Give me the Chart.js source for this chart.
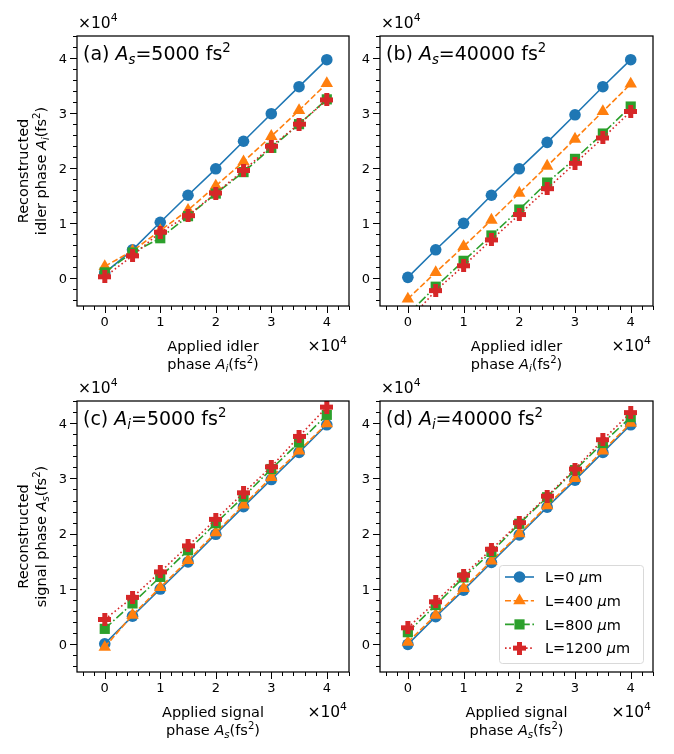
<!DOCTYPE html>
<html>
<head>
<meta charset="utf-8">
<script src="https://cdn.jsdelivr.net/npm/chart.js@4.4.1/dist/chart.umd.min.js"></script>
<style>
  body { margin: 0; background: #fff; }
  #fig { position: relative; width: 674px; height: 754px; }
  #fig canvas { position: absolute; left: 0; top: 0; }
</style>
</head>
<body>
<div id="fig">
  <canvas id="panelA" width="674" height="754"></canvas>
  <canvas id="panelB" width="674" height="754"></canvas>
  <canvas id="panelC" width="674" height="754"></canvas>
  <canvas id="panelD" width="674" height="754"></canvas>
</div>
<script>
// applied phase (x axis), in units of 1e4 fs^2
const appliedPhase = [0, 0.5, 1, 1.5, 2, 2.5, 3, 3.5, 4];
const crystalLengths = ['0', '400', '800', '1200']; // µm
const majorTicks = [0, 1, 2, 3, 4];

// (a) reconstructed idler phase, A_s = 5000 fs^2
const idlerAs5000_L0    = [0.10, 0.52, 1.02, 1.51, 1.99, 2.49, 2.99, 3.48, 3.97];
const idlerAs5000_L400  = [0.22, 0.50, 0.87, 1.24, 1.68, 2.12, 2.58, 3.05, 3.54];
const idlerAs5000_L800  = [0.11, 0.47, 0.73, 1.13, 1.54, 1.93, 2.37, 2.80, 3.25];
const idlerAs5000_L1200 = [0.03, 0.41, 0.84, 1.14, 1.55, 1.96, 2.40, 2.80, 3.24];

// (b) reconstructed idler phase, A_s = 40000 fs^2
const idlerAs40000_L0    = [0.02, 0.52, 1.00, 1.51, 1.99, 2.47, 2.97, 3.48, 3.97];
const idlerAs40000_L400  = [-0.37, 0.11, 0.58, 1.06, 1.55, 2.04, 2.53, 3.03, 3.53];
const idlerAs40000_L800  = [-0.65, -0.15, 0.32, 0.78, 1.25, 1.74, 2.17, 2.63, 3.12];
const idlerAs40000_L1200 = [-0.78, -0.22, 0.23, 0.70, 1.16, 1.63, 2.09, 2.55, 3.03];

// (c) reconstructed signal phase, A_i = 5000 fs^2
const signalAi5000_L0    = [0.01, 0.51, 1.00, 1.49, 1.99, 2.49, 2.98, 3.47, 3.97];
const signalAi5000_L400  = [-0.05, 0.53, 1.03, 1.52, 2.02, 2.52, 3.02, 3.50, 3.99];
const signalAi5000_L800  = [0.28, 0.74, 1.22, 1.70, 2.19, 2.67, 3.17, 3.65, 4.15];
const signalAi5000_L1200 = [0.45, 0.85, 1.31, 1.78, 2.26, 2.74, 3.21, 3.76, 4.29];

// (d) reconstructed signal phase, A_i = 40000 fs^2
const signalAi40000_L0    = [0.00, 0.50, 0.98, 1.48, 1.98, 2.48, 2.97, 3.47, 3.97];
const signalAi40000_L400  = [0.04, 0.53, 1.01, 1.51, 2.00, 2.51, 3.00, 3.50, 4.00];
const signalAi40000_L800  = [0.22, 0.71, 1.21, 1.67, 2.18, 2.66, 3.15, 3.64, 4.11];
const signalAi40000_L1200 = [0.30, 0.77, 1.25, 1.72, 2.20, 2.68, 3.17, 3.70, 4.19];

const FONT = '"DejaVu Sans", "Liberation Sans", sans-serif';

// filled "plus" marker like matplotlib 'P'
function makePlus(size, color) {
  const c = document.createElement('canvas');
  c.width = c.height = size;
  const g = c.getContext('2d');
  g.fillStyle = color;
  const t = Math.round(size * 0.38), o = (size - t) / 2;
  g.fillRect(o, 0, t, size);
  g.fillRect(0, o, size, t);
  return c;
}

const styles = [
  { color: '#1f77b4', dash: [],                   marker: 'circle',   r: 5.8 },
  { color: '#ff7f0e', dash: [6, 2.6],             marker: 'triangle', r: 7.2 },
  { color: '#2ca02c', dash: [9, 2.6, 1.6, 2.6],   marker: 'rect',     r: 7.2 },
  { color: '#d62728', dash: [1.6, 2.6],           marker: makePlus(13, '#d62728'), r: 6.5 }
];

// small rich-text helper (italic / sub / sup runs)
const it = t => ({ t, it: true });
const sub = t => ({ t, it: true, sub: true });
const sup = t => ({ t, sup: true });
function fontFor(r, size) {
  const s = (r.sub || r.sup) ? size * 0.7 : size;
  return (r.it ? 'italic ' : '') + s + 'px ' + FONT;
}
function drawRuns(ctx, runs, x, y, size, align) {
  let w = 0;
  runs.forEach(r => { ctx.font = fontFor(r, size); w += ctx.measureText(r.t).width; });
  let cx = align === 'center' ? x - w / 2 : align === 'right' ? x - w : x;
  ctx.textAlign = 'left';
  ctx.textBaseline = 'alphabetic';
  runs.forEach(r => {
    ctx.font = fontFor(r, size);
    const dy = r.sub ? size * 0.22 : r.sup ? -size * 0.42 : 0;
    ctx.fillText(r.t, cx, y + dy);
    cx += ctx.measureText(r.t).width;
  });
}

const decoPlugin = {
  id: 'deco',
  afterDraw(chart) {
    const p = chart.options.plugins.deco;
    const ctx = chart.ctx;
    const a = chart.chartArea;
    const xs = chart.scales.x, ys = chart.scales.y;
    ctx.save();
    ctx.fillStyle = '#000';
    ctx.strokeStyle = '#000';

    // frame
    ctx.lineWidth = 1.25;
    ctx.strokeRect(a.left, a.top, a.right - a.left, a.bottom - a.top);

    // ticks (major + minor every 0.2)
    ctx.lineWidth = 1;
    ctx.beginPath();
    for (let k = -2; k <= 22; k++) {
      const v = k / 5;
      const len = (k % 5 === 0) ? 7 : 4;
      const px = Math.round(xs.getPixelForValue(v)) + 0.5;
      ctx.moveTo(px, a.bottom); ctx.lineTo(px, a.bottom + len);
      const py = Math.round(ys.getPixelForValue(v)) + 0.5;
      ctx.moveTo(a.left, py); ctx.lineTo(a.left - len, py);
    }
    ctx.stroke();

    // tick labels
    ctx.font = '13px ' + FONT;
    ctx.textBaseline = 'alphabetic';
    majorTicks.forEach(v => {
      ctx.textAlign = 'center';
      ctx.fillText(String(v), xs.getPixelForValue(v), a.bottom + 20);
      ctx.textAlign = 'right';
      ctx.fillText(String(v), a.left - 10, ys.getPixelForValue(v) + 4.7);
    });

    // offset texts x10^4
    const offRuns = [{ t: '×10' }, sup('4')];
    drawRuns(ctx, offRuns, a.left + 1, a.top - 8, 15.5, 'left');
    drawRuns(ctx, offRuns, a.right - 2, a.bottom + 45, 15.5, 'right');

    // panel title
    drawRuns(ctx, p.title, a.left + 6, a.top + 24, 19, 'left');

    // x label
    const cx = (a.left + a.right) / 2;
    drawRuns(ctx, p.xlabel[0], cx, a.bottom + 45, 14.5, 'center');
    drawRuns(ctx, p.xlabel[1], cx, a.bottom + 63, 14.5, 'center');

    // y label
    if (p.ylabel) {
      const cy = (a.top + a.bottom) / 2;
      [28, 46].forEach((bx, i) => {
        ctx.save();
        ctx.translate(bx, cy);
        ctx.rotate(-Math.PI / 2);
        drawRuns(ctx, p.ylabel[i], 0, 0, 14.5, 'center');
        ctx.restore();
      });
    }

    // legend
    if (p.legend) {
      const lx = a.right - 154, ly = a.bottom - 107, lw = 144, lh = 98;
      ctx.fillStyle = 'rgba(255,255,255,0.8)';
      ctx.strokeStyle = '#d9d9d9';
      ctx.lineWidth = 1;
      ctx.beginPath();
      ctx.roundRect(lx + 0.5, ly + 0.5, lw, lh, 3);
      ctx.fill();
      ctx.stroke();
      styles.forEach((s, i) => {
        const ry = ly + 12 + i * 23.7;
        ctx.strokeStyle = s.color;
        ctx.lineWidth = 1.6;
        ctx.setLineDash(s.dash);
        ctx.beginPath();
        ctx.moveTo(lx + 6, ry); ctx.lineTo(lx + 35, ry);
        ctx.stroke();
        ctx.setLineDash([]);
        ctx.fillStyle = s.color;
        Chart.helpers.drawPoint(ctx, { pointStyle: s.marker, radius: s.r, rotation: 0, borderWidth: 0 }, lx + 20.5, ry);
        ctx.fillStyle = '#000';
        drawRuns(ctx, [{ t: 'L=' + crystalLengths[i] + ' ' }, it('μ'), { t: 'm' }], lx + 46, ry + 5.2, 14.5, 'left');
      });
    }
    ctx.restore();
  }
};

function makeDatasets(series) {
  return series.map((vals, i) => {
    const s = styles[i];
    return {
      label: 'L=' + crystalLengths[i] + ' μm',
      data: appliedPhase.map((x, k) => ({ x: x, y: vals[k] })),
      borderColor: s.color,
      backgroundColor: s.color,
      borderWidth: 1.6,
      borderDash: s.dash,
      pointStyle: s.marker,
      pointRadius: s.r,
      pointHoverRadius: s.r,
      pointBorderWidth: 0,
      tension: 0,
      order: 4 - i
    };
  });
}

function makePanel(id, series, pad, deco) {
  new Chart(document.getElementById(id), {
    type: 'line',
    data: { datasets: makeDatasets(series) },
    options: {
      responsive: false,
      animation: false,
      events: [],
      layout: { padding: pad },
      scales: {
        x: { type: 'linear', min: -0.5, max: 4.4, display: false },
        y: { type: 'linear', min: -0.5, max: 4.4, display: false }
      },
      plugins: { legend: { display: false }, tooltip: { enabled: false }, deco: deco }
    },
    plugins: [decoPlugin]
  });
}

const fs2 = [{ t: '(fs' }, sup('2'), { t: ')' }];

// every panel canvas covers the whole figure; padding places its axes box
makePanel('panelA', [idlerAs5000_L0, idlerAs5000_L400, idlerAs5000_L800, idlerAs5000_L1200],
  { left: 77, top: 36, right: 325, bottom: 448 },
  {
    title: [{ t: '(a) ' }, it('A'), sub('s'), { t: '=5000 fs' }, sup('2')],
    xlabel: [[{ t: 'Applied idler' }], [{ t: 'phase ' }, it('A'), sub('i')].concat(fs2)],
    ylabel: [[{ t: 'Reconstructed' }], [{ t: 'idler phase ' }, it('A'), sub('i')].concat(fs2)]
  });

makePanel('panelB', [idlerAs40000_L0, idlerAs40000_L400, idlerAs40000_L800, idlerAs40000_L1200],
  { left: 380, top: 36, right: 21, bottom: 448 },
  {
    title: [{ t: '(b) ' }, it('A'), sub('s'), { t: '=40000 fs' }, sup('2')],
    xlabel: [[{ t: 'Applied idler' }], [{ t: 'phase ' }, it('A'), sub('i')].concat(fs2)]
  });

makePanel('panelC', [signalAi5000_L0, signalAi5000_L400, signalAi5000_L800, signalAi5000_L1200],
  { left: 77, top: 401, right: 325, bottom: 82 },
  {
    title: [{ t: '(c) ' }, it('A'), sub('i'), { t: '=5000 fs' }, sup('2')],
    xlabel: [[{ t: 'Applied signal' }], [{ t: 'phase ' }, it('A'), sub('s')].concat(fs2)],
    ylabel: [[{ t: 'Reconstructed' }], [{ t: 'signal phase ' }, it('A'), sub('s')].concat(fs2)]
  });

makePanel('panelD', [signalAi40000_L0, signalAi40000_L400, signalAi40000_L800, signalAi40000_L1200],
  { left: 380, top: 401, right: 21, bottom: 82 },
  {
    title: [{ t: '(d) ' }, it('A'), sub('i'), { t: '=40000 fs' }, sup('2')],
    xlabel: [[{ t: 'Applied signal' }], [{ t: 'phase ' }, it('A'), sub('s')].concat(fs2)],
    legend: true
  });
</script>
</body>
</html>
